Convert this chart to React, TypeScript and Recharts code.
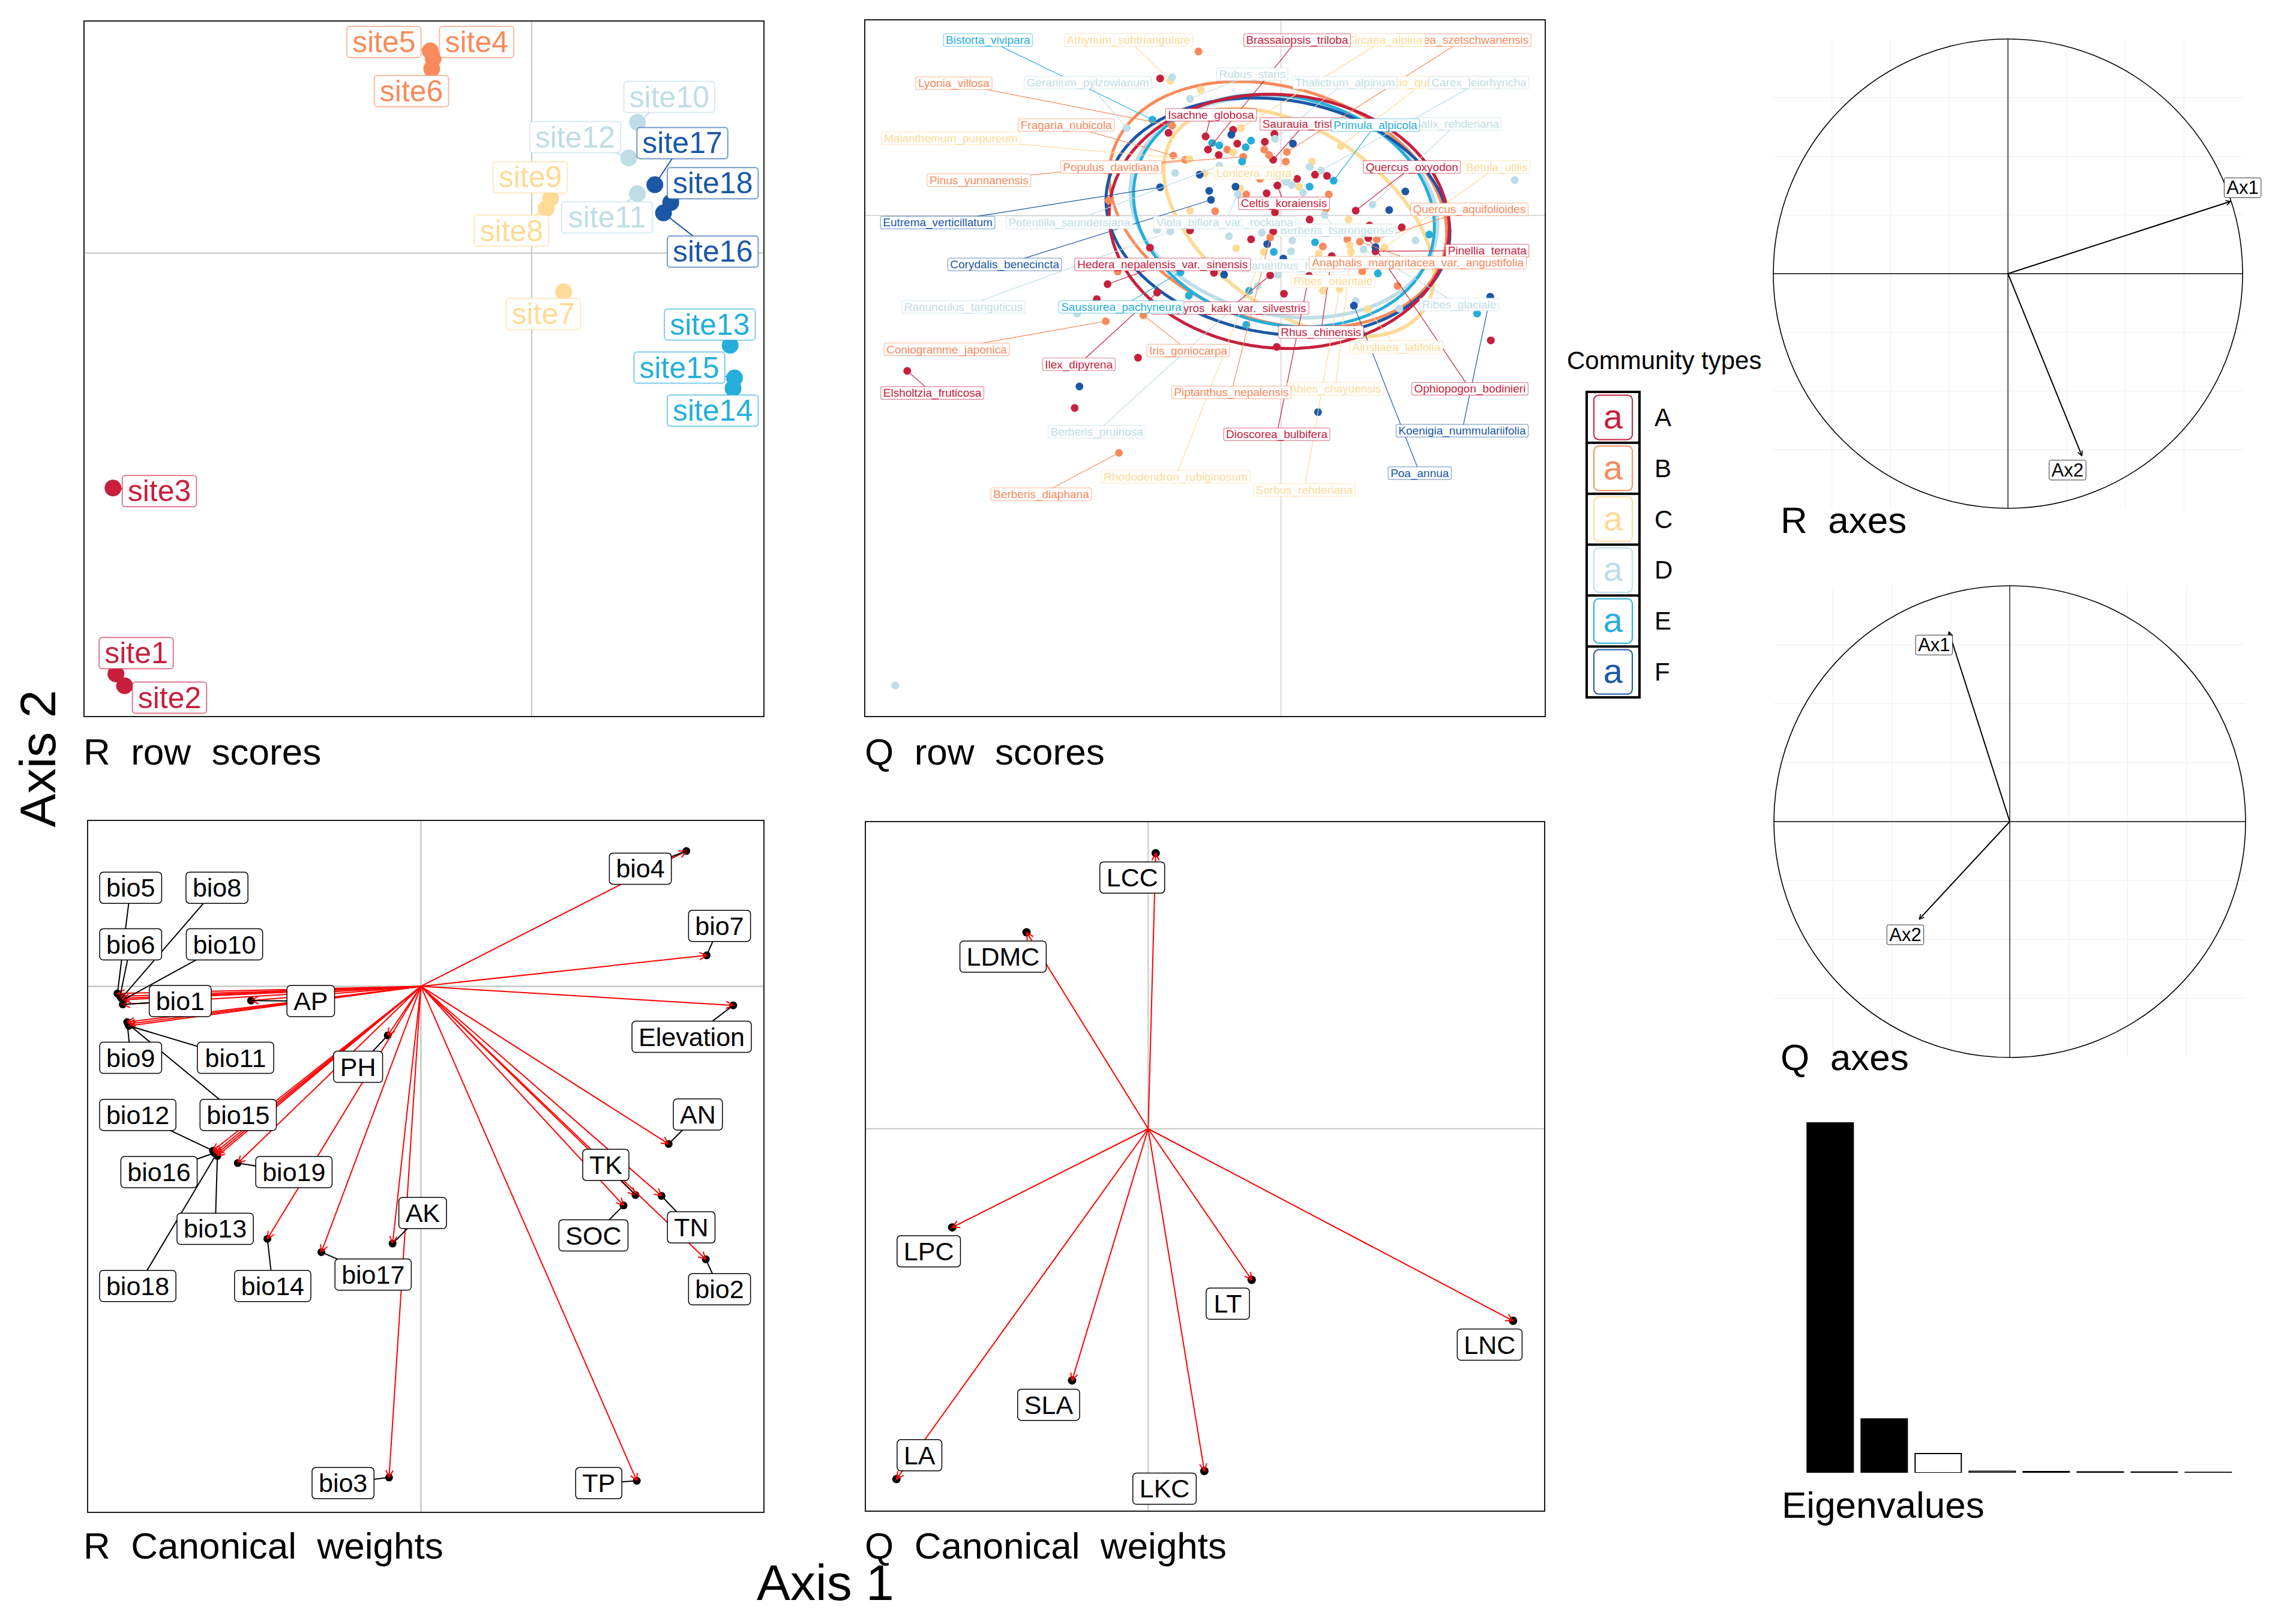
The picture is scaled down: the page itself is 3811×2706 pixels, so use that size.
import React from "react";
import {
  ScatterChart,
  Scatter,
  XAxis,
  YAxis,
  CartesianGrid,
  ReferenceLine,
  ReferenceDot,
  BarChart,
  Bar,
  Cell,
} from "recharts";

const FONT = "Arial, 'Liberation Sans', Helvetica, sans-serif";

// community types
const typeNames = ["A", "B", "C", "D", "E", "F"];
const typeColors = ["#C6203D", "#F88A5B", "#FDDB97", "#BEDDE6", "#25AEDA", "#1B57A6"];
const colorOf = (t: string) => typeColors[typeNames.indexOf(t)];

// ---- R row scores (sites) ----
const sites = ["site1", "site2", "site3", "site4", "site5", "site6", "site7", "site8", "site9",
  "site10", "site11", "site12", "site13", "site14", "site15", "site16", "site17", "site18"];
const siteTypes = ["A", "A", "A", "B", "B", "B", "C", "C", "C", "D", "D", "D", "E", "E", "E", "F", "F", "F"];
const siteAx1 = [-2.87, -2.81, -2.89, -0.68, -0.7, -0.69, 0.22, 0.1, 0.13, 0.73, 0.73, 0.67, 1.37, 1.39, 1.4, 0.91, 0.85, 0.96];
const siteAx2 = [-2.83, -2.91, -1.58, 1.31, 1.36, 1.24, -0.26, 0.3, 0.37, 0.88, 0.4, 0.64, -0.62, -0.91, -0.84, 0.27, 0.46, 0.34];
// where the repelled labels sit
const siteLabelAx1 = [-2.73, -2.5, -2.57, -0.38, -1.02, -0.83, 0.08, -0.14, -0.01, 0.95, 0.52, 0.3, 1.23, 1.25, 1.02, 1.25, 1.04, 1.25];
const siteLabelAx2 = [-2.69, -2.99, -1.6, 1.42, 1.42, 1.09, -0.41, 0.15, 0.51, 1.05, 0.24, 0.78, -0.48, -1.06, -0.77, 0.01, 0.74, 0.47];

// ---- Q row scores (species), by community type ----
const spA1 = [-2.02, -1.88, -1.26, -0.8, -1.22, -0.73, -0.27, -0.11, -1.04, -0.13, -0.24, -0.06, -0.1, -1.52, -0.5, -0.13, 0.57, 0.77, 0.27, 0.48, 1.25, 2.02, 1.48, 1.46, 1.58, 0.85, -1.12, -0.18, 0.47, 0.05, 3.51, -0.07, -2.19, -2.9, -2.07, -3.08, -2.39, -6.25, -3.45];
const spA2 = [2.29, 1.38, 1.32, 1.43, 1.1, 1.2, 1.23, 1.36, 1.01, 0.93, 0.37, 0.5, 0.05, -0.25, -0.4, -0.27, 0.68, 0.66, 0.61, -0.07, 0.08, -0.2, -0.17, -0.38, -0.6, -0.68, -0.96, -1.0, -1.01, -1.31, -2.09, -2.2, -0.54, -1.15, -1.29, -1.4, -2.38, -2.6, -3.22];
const spB1 = [-1.38, -1.82, -0.9, -0.28, -0.2, -0.63, 0.1, -1.8, -1.6, 0.08, -1.1, -0.58, -0.35, -2.88, -0.18, 0.8, 0.75, 0.7, 1.11, 1.6, 1.32, 1.36, 1.95, -2.73, -2.3, -2.93, -2.71];
const spB2 = [2.74, 1.5, 1.1, 1.1, 1.01, 0.98, 1.06, 1.0, 0.93, 0.9, 0.07, 0.35, 0.61, 0.25, -0.37, 0.35, 0.11, -0.52, -0.4, -0.4, -0.44, -0.94, -1.18, -0.94, -1.67, -1.77, -3.97];
const spC1 = [-1.85, -1.34, -0.67, -0.8, -1.53, -1.28, -1.52, -0.68, 1.0, 0.52, 0.3, 1.13, -0.75, 1.15, 1.17, 1.73, 0.7, 0.98, 1.45, -0.29, 0.63];
const spC2 = [2.25, 2.1, 1.46, 1.05, 0.94, 0.7, 0.08, 0.45, 1.16, 0.9, 0.48, -0.07, -0.55, -0.5, -0.61, -0.54, -1.26, -1.23, -1.57, -0.61, -0.64];
const spD1 = [-1.82, -1.52, -2.58, -0.1, -1.77, -1.03, 0.08, 0.18, -0.72, -1.85, -2.07, -0.87, -0.32, 0.48, 0.67, 0.1, 0.37, 0.73, 1.53, 3.91, 2.25, 0.19, 1.38, -0.05, -0.39, 1.25, 1.98, -3.41, -6.45, 0.17];
const spD2 = [2.31, 1.95, 1.46, 1.28, 0.71, 0.83, 0.56, 0.51, 0.35, -0.27, -0.24, -0.35, -0.29, 0.81, 0.75, 0.58, 0.38, 0.01, 0.18, 0.59, -0.42, -0.42, -0.57, -0.99, -1.18, -1.43, -1.56, -1.64, -7.86, -0.6];
const spE1 = [-2.15, -1.15, -1.03, -0.59, -0.5, -0.65, 0.88, 0.48, 2.48, -0.12, 0.57, 1.62, -0.53, 3.28, -0.58, -1.68, -1.54];
const spE2 = [1.6, 1.21, 1.17, 1.14, 1.25, 0.9, 0.58, 0.48, -0.32, -0.61, -0.45, -0.97, -1.26, -1.64, -1.83, -0.95, -1.34];
const spF1 = [-0.83, 0.2, -1.36, -2.02, -1.2, -1.17, -0.76, 1.81, 2.08, -0.23, 1.58, 0.04, -0.95, 1.22, 3.5, -3.37, 0.62];
const spF2 = [1.35, 1.2, 0.68, 0.47, 0.41, 0.26, 0.48, 0.09, 0.4, -0.48, -0.53, -0.72, -0.99, -1.51, -1.36, -2.86, -3.29];
const speciesAx1 = [spA1, spB1, spC1, spD1, spE1, spF1];
const speciesAx2 = [spA2, spB2, spC2, spD2, spE2, spF2];

// labelled species: name, type, score, label position
const spNames = ["Spiraea_szetschwanensis", "Circaea_alpina", "Brassaiopsis_triloba", "Bistorta_vivipara", "Athyrium_subtriangulare",
  "Lyonia_villosa", "Geranium_pylzowianum", "Rubus_stans", "Senecio_quinquelobus", "Thalictrum_alpinum", "Carex_leiorhyncha",
  "Isachne_globosa", "Saurauia_tristyla", "Salix_rehderiana", "Primula_alpicola", "Fragaria_nubicola", "Maianthemum_purpureum",
  "Populus_davidiana", "Pinus_yunnanensis", "Lonicera_nigra", "Quercus_oxyodon", "Betula_utilis", "Celtis_koraiensis",
  "Quercus_aquifolioides", "Eutrema_verticillatum", "Potentilla_saundersiana", "Berberis_tsarongensis", "Viola_biflora_var._rockiana",
  "Pinellia_ternata", "Cyananthus_hookeri", "Anaphalis_margaritacea_var._angustifolia", "Corydalis_benecincta",
  "Hedera_nepalensis_var._sinensis", "Ribes_orientale", "Ribes_glaciale", "Ranunculus_tanguticus", "Diospyros_kaki_var._silvestris",
  "Saussurea_pachyneura", "Rhus_chinensis", "Ainsliaea_latifolia", "Iris_goniocarpa", "Coniogramme_japonica", "Ilex_dipyrena",
  "Elsholtzia_fruticosa", "Abies_chayuensis", "Piptanthus_nepalensis", "Ophiopogon_bodinieri", "Berberis_pruinosa",
  "Koenigia_nummulariifolia", "Dioscorea_bulbifera", "Poa_annua", "Rhododendron_rubiginosum", "Berberis_diaphana", "Sorbus_rehderiana"];
const spTypes = ["B", "C", "A", "E", "C", "B", "D", "D", "C", "D", "D", "A", "A", "D", "E", "B", "C", "B", "B", "C", "A", "C", "A",
  "B", "F", "D", "D", "D", "A", "D", "B", "F", "A", "C", "D", "D", "A", "E", "A", "C", "B", "B", "A", "A", "C", "B", "A", "D",
  "F", "A", "F", "C", "B", "C"];
const spScore1 = [0.1, -0.67, -1.22, -2.15, -1.85, -1.82, -2.58, -1.52, 1.0, -0.1, 0.67, -1.26, -0.13, 1.53, 0.88, -1.8, -1.53,
  -0.63, -1.6, -1.28, 1.25, 1.73, -0.06, 1.6, -2.02, -1.03, 0.73, -0.72, 1.58, -0.05, 1.32, -1.17, -2.9, 0.63, 1.38, -1.85,
  -0.18, -1.68, 0.85, 1.45, -2.3, -2.93, -2.07, -6.25, 1.17, -0.18, 1.46, -0.39, 3.5, 0.47, 1.22, -0.29, -2.71, 0.98];
const spScore2 = [1.06, 1.46, 1.1, 1.6, 2.25, 1.5, 1.46, 1.95, 1.16, 1.28, 0.75, 1.32, 0.93, 0.18, 0.58, 1.0, 0.94, 0.98, 0.93,
  0.7, 0.08, -0.54, 0.5, -0.4, 0.47, 0.83, 0.01, 0.35, -0.6, -0.99, -0.44, 0.26, -1.15, -0.64, -0.57, -0.27, -1.0, -0.95,
  -0.68, -1.57, -1.67, -1.77, -1.29, -2.6, -0.61, -0.37, -0.38, -1.18, -1.36, -1.01, -1.51, -0.61, -3.97, -1.23];
const spLabel1 = [3.04, 1.73, 0.27, -4.9, -2.55, -5.47, -3.23, -0.48, 2.4, 1.07, 3.31, -1.17, 0.4, 2.93, 1.58, -3.59, -5.52,
  -2.84, -5.05, -0.45, 2.19, 3.61, 0.05, 3.15, -5.74, -3.54, 0.93, -0.94, 3.45, 0.15, 2.29, -4.62, -1.98, 0.87, 2.98, -5.31,
  -0.85, -2.67, 0.67, 1.93, -1.55, -5.59, -3.38, -5.83, 0.91, -0.83, 3.16, -3.08, 3.03, -0.07, 2.32, -1.76, -4.01, 0.39];
const spLabel2 = [2.93, 2.93, 2.93, 2.93, 2.93, 2.21, 2.22, 2.36, 2.22, 2.22, 2.22, 1.68, 1.53, 1.53, 1.51, 1.51, 1.29, 0.81,
  0.59, 0.71, 0.81, 0.81, 0.2, 0.1, -0.12, -0.12, -0.25, -0.12, -0.59, -0.84, -0.79, -0.82, -0.82, -1.1, -1.49, -1.53, -1.55,
  -1.53, -1.95, -2.2, -2.26, -2.24, -2.49, -2.97, -2.9, -2.96, -2.9, -3.62, -3.6, -3.66, -4.31, -4.37, -4.66, -4.59];

// normal-theory ellipses per community type (centre, semi-axes, tilt in degrees)
const ellipseCx = [-0.03, -0.05, 0.3, 0.05, 0.05, -0.05];
const ellipseCy = [-0.1, 0.18, -0.12, 0.13, 0.08, -0.02];
const ellipseA = [2.85, 2.9, 2.55, 2.6, 2.55, 2.9];
const ellipseB = [2.12, 1.95, 1.5, 1.8, 1.9, 1.95];
const ellipseTilt = [5, 18, 35, 12, 14, 10];

// ---- R canonical weights ----
const envVars = ["bio4", "bio7", "Elevation", "AN", "TK", "SOC", "TN", "bio2", "TP", "bio3", "AK", "bio17", "bio14", "PH",
  "bio19", "bio13", "bio12", "bio16", "bio18", "bio15", "bio9", "bio11", "bio1", "AP", "bio5", "bio6", "bio8", "bio10"];
const envAx1 = [0.6, 0.646, 0.706, 0.56, 0.485, 0.458, 0.544, 0.644, 0.488, -0.072, -0.064, -0.225, -0.347, -0.075,
  -0.414, -0.46, -0.47, -0.467, -0.462, -0.662, -0.664, -0.66, -0.674, -0.384, -0.686, -0.68, -0.677, -0.672];
const envAx2 = [0.284, 0.065, -0.04, -0.331, -0.438, -0.46, -0.44, -0.573, -1.038, -1.031, -0.54, -0.558, -0.53, -0.103,
  -0.371, -0.356, -0.345, -0.35, -0.352, -0.079, -0.075, -0.083, -0.038, -0.03, -0.015, -0.021, -0.025, -0.028];
const envLabel1 = [0.496, 0.675, 0.612, 0.626, 0.418, 0.39, 0.611, 0.675, 0.402, -0.176, 0.004, -0.108, -0.335, -0.142,
  -0.287, -0.465, -0.64, -0.592, -0.64, -0.413, -0.656, -0.419, -0.544, -0.249, -0.656, -0.656, -0.461, -0.444];
const envLabel2 = [0.247, 0.127, -0.106, -0.269, -0.375, -0.523, -0.506, -0.636, -1.043, -1.043, -0.476, -0.605, -0.629,
  -0.169, -0.39, -0.509, -0.27, -0.39, -0.629, -0.27, -0.15, -0.15, -0.031, -0.031, 0.207, 0.088, 0.207, 0.088];

// ---- Q canonical weights ----
const traits = ["LCC", "LDMC", "LPC", "LA", "SLA", "LKC", "LT", "LNC"];
const traitAx1 = [0.017, -0.275, -0.443, -0.569, -0.172, 0.127, 0.234, 0.825];
const traitAx2 = [0.578, 0.412, -0.207, -0.735, -0.528, -0.718, -0.317, -0.403];
const traitLabel1 = [-0.036, -0.328, -0.496, -0.517, -0.225, 0.037, 0.18, 0.772];
const traitLabel2 = [0.527, 0.361, -0.257, -0.685, -0.579, -0.755, -0.367, -0.453];

// ---- axes projections ----
const axisNames = ["Ax1", "Ax2"];
const rAxes1 = [0.949, 0.315];
const rAxes2 = [0.308, -0.776];
const rAxesLabel1 = [1.0, 0.254];
const rAxesLabel2 = [0.366, -0.837];
const qAxes1 = [-0.258, -0.384];
const qAxes2 = [0.805, -0.414];
const qAxesLabel1 = [-0.321, -0.443];
const qAxesLabel2 = [0.749, -0.48];

// ---- eigenvalues ----
const eigenAxes = ["1", "2", "3", "4", "5", "6", "7", "8"];
const eigenValues = [0.873, 0.134, 0.048, 0.0036, 0.0029, 0.0022, 0.0017, 0.0012];
const eigenKept = 2;

// ---------------------------------------------------------------
function charW(c: string) {
  if ("ijl".includes(c)) return 0.222;
  if ("It. f".includes(c)) return 0.278;
  if (c === "r") return 0.333;
  if ("cksvxyzJ".includes(c)) return 0.5;
  if (c === "m" || c === "M") return 0.833;
  if (c === "w") return 0.722;
  if ("ABEKPSVXY".includes(c)) return 0.667;
  if ("CDHNRU".includes(c)) return 0.722;
  if ("GOQ".includes(c)) return 0.778;
  if ("FTZ".includes(c)) return 0.611;
  if (c === "W") return 0.944;
  return 0.556;
}
const textW = (s: string, size: number) => s.split("").reduce((a, c) => a + charW(c), 0) * size;

const noShape = () => <g />;

type LabelStyle = {
  size: number;
  padX: number;
  h: number;
  rx: number;
  strokeWidth: number;
  strokeOpacity: number;
  colored: boolean;
};

function boxLabel(st: LabelStyle) {
  return (props: any) => {
    const { cx, cy, payload } = props;
    if (cx == null || cy == null) return <g />;
    const col = st.colored ? colorOf(payload.type) : "#000";
    const w = textW(payload.name, st.size) + 2 * st.padX;
    return (
      <g>
        <rect x={cx - w / 2} y={cy - st.h / 2} width={w} height={st.h} rx={st.rx} fill="#fff"
          stroke={col} strokeWidth={st.strokeWidth} strokeOpacity={st.strokeOpacity} />
        <text x={cx} y={cy} textAnchor="middle" dominantBaseline="central" fontSize={st.size}
          fontFamily={FONT} fill={col}>{payload.name}</text>
      </g>
    );
  };
}

function dot(r: number, fixed?: string) {
  return (props: any) => {
    const { cx, cy, payload } = props;
    if (cx == null || cy == null) return <g />;
    return <circle cx={cx} cy={cy} r={r} fill={fixed ?? colorOf(payload.type)} />;
  };
}

function Frame({ left, top, w, h, children }: { left: number; top: number; w: number; h: number; children: React.ReactNode }) {
  return (
    <div style={{ position: "absolute", left, top, width: w, height: h, border: "2px solid #1a1a1a", boxSizing: "border-box", background: "#fff" }}>
      {children}
    </div>
  );
}

const M0 = { top: 0, right: 0, bottom: 0, left: 0 };

function axes(xd: [number, number], yd: [number, number]) {
  return [
    <XAxis key="x" type="number" dataKey="x" domain={xd} hide allowDataOverflow />,
    <YAxis key="y" type="number" dataKey="y" domain={yd} hide allowDataOverflow />,
  ];
}

// ---------------------------------------------------------------
function RRowScores() {
  const W = 1135, H = 1161;
  const rows = sites.map((s, i) => ({ name: s, type: siteTypes[i], x: siteAx1[i], y: siteAx2[i] }));
  const labels = sites.map((s, i) => ({ name: s, type: siteTypes[i], x: siteLabelAx1[i], y: siteLabelAx2[i] }));
  return (
    <Frame left={139} top={34} w={W} h={H}>
      <ScatterChart width={W - 4} height={H - 4} margin={M0}>
        {axes([-3.086, 1.599], [-3.113, 1.557])}
        <CartesianGrid horizontalValues={[0]} verticalValues={[0]} stroke="#c6c6c6" strokeWidth={2} />
        {sites.map((s, i) => (
          <Scatter key={"c" + s} data={[rows[i], labels[i]]} line={{ stroke: colorOf(siteTypes[i]), strokeWidth: 2 }}
            shape={noShape} isAnimationActive={false} />
        ))}
        <Scatter data={rows} shape={dot(14)} isAnimationActive={false} />
        <Scatter data={labels} isAnimationActive={false}
          shape={boxLabel({ size: 50, padX: 9, h: 52, rx: 5, strokeWidth: 2, strokeOpacity: 0.6, colored: true })} />
      </ScatterChart>
    </Frame>
  );
}

function ellipsePoints(i: number) {
  const th = (-ellipseTilt[i] * Math.PI) / 180;
  const pts = [];
  for (let k = 0; k <= 90; k++) {
    const t = (k / 90) * 2 * Math.PI;
    const dx = ellipseA[i] * Math.cos(t);
    const dy = ellipseB[i] * Math.sin(t);
    pts.push({ x: ellipseCx[i] + dx * Math.cos(th) - dy * Math.sin(th), y: ellipseCy[i] + dx * Math.sin(th) + dy * Math.cos(th) });
  }
  return pts;
}

function QRowScores() {
  const W = 1136, H = 1163;
  const dots = typeNames.flatMap((t, g) => speciesAx1[g].map((x, i) => ({ type: t, x, y: speciesAx2[g][i] })));
  const labels = spNames.map((n, i) => ({ name: n, type: spTypes[i], x: spLabel1[i], y: spLabel2[i] }));
  const ellipseOrder = [2, 3, 1, 4, 5, 0];
  return (
    <Frame left={1440} top={32} w={W} h={H}>
      <ScatterChart width={W - 4} height={H - 4} margin={M0}>
        {axes([-6.95, 4.41], [-8.37, 3.26])}
        <CartesianGrid horizontalValues={[0]} verticalValues={[0]} stroke="#cfcfcf" strokeWidth={1.5} />
        {ellipseOrder.map((g) => (
          <Scatter key={"e" + g} data={ellipsePoints(g)} shape={noShape} isAnimationActive={false}
            line={{ stroke: typeColors[g], strokeWidth: g === 2 || g === 3 ? 6 : 5 }} />
        ))}
        <Scatter data={dots} shape={dot(6.5)} isAnimationActive={false} />
        {spNames.map((n, i) => (
          <Scatter key={"c" + n} data={[{ x: spScore1[i], y: spScore2[i] }, labels[i]]} shape={noShape}
            line={{ stroke: colorOf(spTypes[i]), strokeWidth: 1.2 }} isAnimationActive={false} />
        ))}
        <Scatter data={labels} isAnimationActive={false}
          shape={boxLabel({ size: 19, padX: 4, h: 21, rx: 3, strokeWidth: 1.2, strokeOpacity: 0.55, colored: true })} />
      </ScatterChart>
    </Frame>
  );
}

function RWeights() {
  const W = 1129, H = 1155;
  const pts = envVars.map((n, i) => ({ name: n, x: envAx1[i], y: envAx2[i] }));
  const labels = envVars.map((n, i) => ({ name: n, x: envLabel1[i], y: envLabel2[i] }));
  return (
    <Frame left={145} top={1366} w={W} h={H}>
      <ScatterChart width={W - 4} height={H - 4} margin={M0}>
        {axes([-0.752, 0.774], [-1.103, 0.347])}
        <CartesianGrid horizontalValues={[0]} verticalValues={[0]} stroke="#c6c6c6" strokeWidth={2.5} />
        <Scatter data={pts} shape={dot(6.5, "#000")} isAnimationActive={false} />
        {envVars.map((n, i) => (
          <Scatter key={"a" + n} data={[{ x: 0, y: 0 }, pts[i]]} shape={noShape} isAnimationActive={false}
            line={{ stroke: "#ff0000", strokeWidth: 2, markerEnd: "url(#arrowRed)" }} />
        ))}
        {envVars.map((n, i) => (
          <Scatter key={"c" + n} data={[pts[i], labels[i]]} shape={noShape} isAnimationActive={false}
            line={{ stroke: "#000", strokeWidth: 2 }} />
        ))}
        <Scatter data={labels} isAnimationActive={false}
          shape={boxLabel({ size: 43, padX: 11, h: 52, rx: 6, strokeWidth: 1.5, strokeOpacity: 1, colored: false })} />
      </ScatterChart>
    </Frame>
  );
}

function QWeights() {
  const W = 1134, H = 1151;
  const pts = traits.map((n, i) => ({ name: n, x: traitAx1[i], y: traitAx2[i] }));
  const labels = traits.map((n, i) => ({ name: n, x: traitLabel1[i], y: traitLabel2[i] }));
  return (
    <Frame left={1441} top={1368} w={W} h={H}>
      <ScatterChart width={W - 4} height={H - 4} margin={M0}>
        {axes([-0.638, 0.895], [-0.801, 0.643])}
        <CartesianGrid horizontalValues={[0]} verticalValues={[0]} stroke="#c6c6c6" strokeWidth={2} />
        <Scatter data={pts} shape={dot(7, "#000")} isAnimationActive={false} />
        {traits.map((n, i) => (
          <Scatter key={"a" + n} data={[{ x: 0, y: 0 }, pts[i]]} shape={noShape} isAnimationActive={false}
            line={{ stroke: "#ff0000", strokeWidth: 2, markerEnd: "url(#arrowRed)" }} />
        ))}
        <Scatter data={labels} isAnimationActive={false}
          shape={boxLabel({ size: 43, padX: 11, h: 52, rx: 6, strokeWidth: 1.5, strokeOpacity: 1, colored: false })} />
      </ScatterChart>
    </Frame>
  );
}

const gridVals = [-0.75, -0.5, -0.25, 0.25, 0.5, 0.75];
const EXT = 1.12; // room around the unit circle for the labels

function AxesCircle({ cx, cy, radius, a1, a2, l1, l2 }: { cx: number; cy: number; radius: number; a1: number[]; a2: number[]; l1: number[]; l2: number[] }) {
  const ends = axisNames.map((n, i) => ({ name: n, x: a1[i], y: a2[i] }));
  const labels = axisNames.map((n, i) => ({ name: n, x: l1[i], y: l2[i] }));
  const half = Math.round(radius * EXT);
  return (
    <div style={{ position: "absolute", left: cx - half, top: cy - half }}>
      <ScatterChart width={2 * half} height={2 * half} margin={M0}>
        {axes([-EXT, EXT], [-EXT, EXT])}
        {gridVals.map((v) => (
          <ReferenceLine key={"h" + v} segment={[{ x: -1, y: v }, { x: 1, y: v }]} stroke="#ededed" strokeWidth={1} />
        ))}
        {gridVals.map((v) => (
          <ReferenceLine key={"v" + v} segment={[{ x: v, y: -1 }, { x: v, y: 1 }]} stroke="#ededed" strokeWidth={1} />
        ))}
        <ReferenceLine segment={[{ x: 0, y: -1 }, { x: 0, y: 1 }]} stroke="#000" strokeWidth={1.3} />
        <ReferenceLine segment={[{ x: -1, y: 0 }, { x: 1, y: 0 }]} stroke="#000" strokeWidth={1.3} />
        <ReferenceDot x={0} y={0} r={radius} fill="none" stroke="#000" strokeWidth={1.6} />
        {axisNames.map((n, i) => (
          <Scatter key={"a" + n} data={[{ x: 0, y: 0 }, ends[i]]} shape={noShape} isAnimationActive={false}
            line={{ stroke: "#000", strokeWidth: 2, markerEnd: "url(#arrowBlack)" }} />
        ))}
        <Scatter data={labels} isAnimationActive={false}
          shape={boxLabel({ size: 31, padX: 4, h: 33, rx: 3, strokeWidth: 1, strokeOpacity: 0.8, colored: false })} />
      </ScatterChart>
    </div>
  );
}

function Eigenvalues() {
  const data = eigenAxes.map((a, i) => ({ axis: a, value: eigenValues[i] }));
  return (
    <div style={{ position: "absolute", left: 3005, top: 1869 }}>
      <BarChart width={720} height={586} data={data} margin={{ top: 1, right: 0, bottom: 1, left: 0 }} barCategoryGap="7%">
        <XAxis dataKey="axis" hide />
        <YAxis type="number" hide domain={[0, eigenValues[0]]} allowDataOverflow />
        <Bar dataKey="value" stroke="#000" strokeWidth={2} isAnimationActive={false}>
          {data.map((d, i) => (
            <Cell key={d.axis} fill={i < eigenKept ? "#000" : "#fff"} />
          ))}
        </Bar>
      </BarChart>
    </div>
  );
}

function Overlay() {
  const title = { fontFamily: FONT, fontSize: 62, fill: "#000", style: { whiteSpace: "pre" as const } };
  const rowH = 509 / 6;
  return (
    <svg width={3811} height={2706} style={{ position: "absolute", left: 0, top: 0, pointerEvents: "none" }}>
      <text x={139} y={1274} {...title}>{"R  row  scores"}</text>
      <text x={1441} y={1274} {...title}>{"Q  row  scores"}</text>
      <text x={139} y={2597} {...title}>{"R  Canonical  weights"}</text>
      <text x={1441} y={2597} {...title}>{"Q  Canonical  weights"}</text>
      <text x={2967} y={888} {...title}>{"R  axes"}</text>
      <text x={2967} y={1783} {...title}>{"Q  axes"}</text>
      <text x={2969} y={2529} {...title}>Eigenvalues</text>
      <text x={1261} y={2666} fontFamily={FONT} fontSize={84}>Axis 1</text>
      <text x={92} y={1264} fontFamily={FONT} fontSize={84} textAnchor="middle" transform="rotate(-90 92 1264)">Axis 2</text>

      <text x={2611} y={615} fontFamily={FONT} fontSize={42}>Community types</text>
      <rect x={2644} y={653} width={88} height={509} fill="none" stroke="#000" strokeWidth={4} />
      {typeNames.map((t, i) => {
        const cy = 653 + rowH * i + rowH / 2;
        return (
          <g key={t}>
            {i > 0 && <line x1={2644} x2={2732} y1={653 + rowH * i} y2={653 + rowH * i} stroke="#000" strokeWidth={4} />}
            <rect x={2656} y={cy - 37} width={64} height={74} rx={8} fill="#fff" stroke={typeColors[i]} strokeWidth={2} />
            <text x={2688} y={cy - 2} textAnchor="middle" dominantBaseline="central" fontFamily={FONT} fontSize={58} fill={typeColors[i]}>a</text>
            <text x={2757} y={cy} dominantBaseline="central" fontFamily={FONT} fontSize={42}>{t}</text>
          </g>
        );
      })}
    </svg>
  );
}

export default function App() {
  return (
    <div style={{ position: "absolute", left: 0, top: 0, width: 3811, height: 2706, background: "#fff", fontFamily: FONT }}>
      <svg width={0} height={0} style={{ position: "absolute" }}>
        <defs>
          <marker id="arrowRed" viewBox="0 0 16 16" refX={14} refY={8} markerWidth={16} markerHeight={16}
            markerUnits="userSpaceOnUse" orient="auto">
            <path d="M2,2 L14,8 L2,14" fill="none" stroke="#ff0000" strokeWidth={2} />
          </marker>
          <marker id="arrowBlack" viewBox="0 0 10 10" refX={9} refY={5} markerWidth={10} markerHeight={10}
            markerUnits="userSpaceOnUse" orient="auto">
            <path d="M1,1 L9,5 L1,9" fill="none" stroke="#000" strokeWidth={1.6} />
          </marker>
        </defs>
      </svg>
      <RRowScores />
      <QRowScores />
      <RWeights />
      <QWeights />
      <AxesCircle cx={3346} cy={456} radius={391} a1={rAxes1} a2={rAxes2} l1={rAxesLabel1} l2={rAxesLabel2} />
      <AxesCircle cx={3349} cy={1369} radius={393} a1={qAxes1} a2={qAxes2} l1={qAxesLabel1} l2={qAxesLabel2} />
      <Eigenvalues />
      <Overlay />
    </div>
  );
}
